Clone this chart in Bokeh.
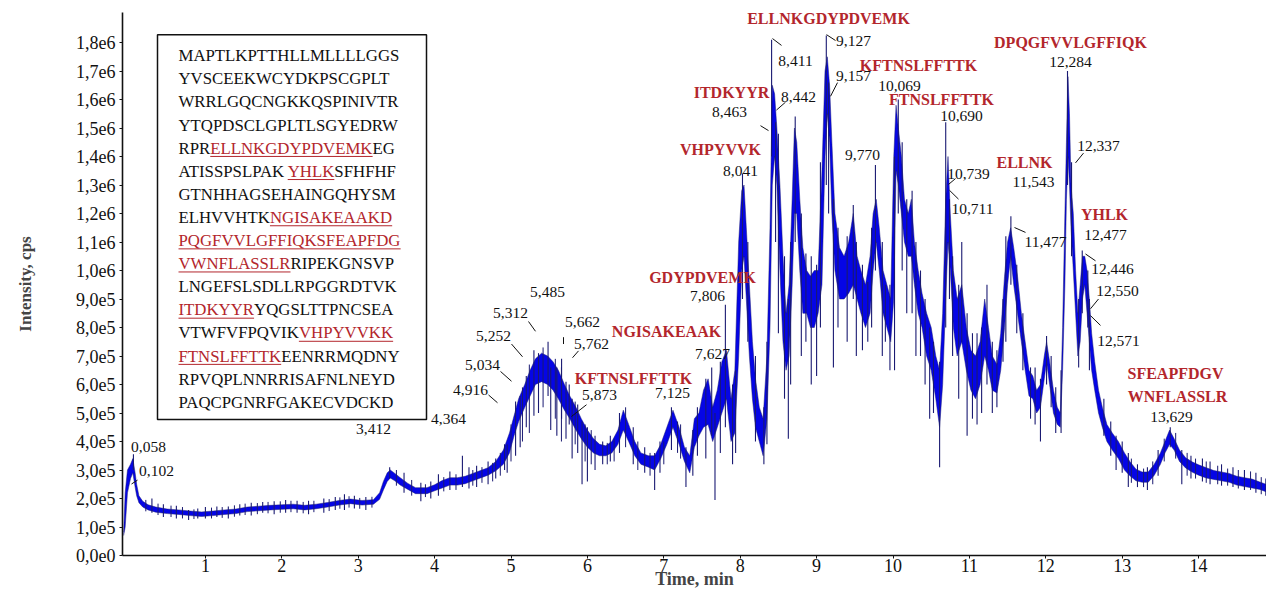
import numpy as np
from bokeh.plotting import figure
from bokeh.models import Range1d, FixedTicker, ColumnDataSource
from bokeh.core.properties import value
from bokeh.embed import file_html
from bokeh.resources import INLINE

# ---------------- data ----------------
# TIC envelope: time (min), lower and upper edge of the noisy trace (x 1e5 cps)
time_min = [-0.07, -0.05, -0.02, 0.02, 0.05, 0.08, 0.10, 0.13, 0.18, 0.25, 0.35, 0.5, 0.65, 0.8, 0.95,
            1.1, 1.25, 1.4, 1.55, 1.7, 1.85, 2.0, 2.15, 2.3, 2.45, 2.6, 2.75, 2.9, 3.05, 3.2, 3.28,
            3.33, 3.38, 3.42, 3.48, 3.55, 3.65, 3.75, 3.9, 4.0, 4.1, 4.2, 4.3, 4.4, 4.5, 4.6, 4.7,
            4.8, 4.9, 4.98, 5.04, 5.1, 5.18, 5.25, 5.32, 5.4, 5.48, 5.55, 5.62, 5.7, 5.77, 5.85,
            5.92, 6.0, 6.08, 6.16, 6.24, 6.32, 6.4, 6.47, 6.54, 6.62, 6.7, 6.8, 6.88, 6.96, 7.04,
            7.12, 7.2, 7.27, 7.34, 7.4, 7.46, 7.52, 7.58, 7.64, 7.7, 7.76, 7.82, 7.88, 7.93, 7.98,
            8.02, 8.05, 8.08, 8.12, 8.16, 8.2, 8.25, 8.3, 8.35, 8.39, 8.42, 8.45, 8.48, 8.52, 8.56,
            8.6, 8.64, 8.68, 8.71, 8.74, 8.78, 8.82, 8.87, 8.92, 8.97, 9.02, 9.07, 9.11, 9.14, 9.17,
            9.2, 9.24, 9.3, 9.36, 9.42, 9.48, 9.53, 9.58, 9.64, 9.7, 9.74, 9.78, 9.82, 9.87, 9.92,
            9.97, 10.01, 10.04, 10.07, 10.11, 10.15, 10.2, 10.24, 10.28, 10.33, 10.38, 10.44, 10.5,
            10.56, 10.61, 10.65, 10.69, 10.72, 10.75, 10.79, 10.84, 10.9, 10.96, 11.02, 11.08,
            11.14, 11.2, 11.25, 11.3, 11.36, 11.41, 11.46, 11.5, 11.54, 11.58, 11.63, 11.68, 11.73,
            11.78, 11.83, 11.88, 11.93, 11.98, 12.01, 12.05, 12.1, 12.15, 12.19, 12.22, 12.25,
            12.27, 12.29, 12.31, 12.33, 12.36, 12.39, 12.42, 12.45, 12.48, 12.51, 12.54, 12.57,
            12.6, 12.64, 12.69, 12.74, 12.8, 12.87, 12.95, 13.03, 13.1, 13.18, 13.26, 13.34, 13.42,
            13.5, 13.56, 13.62, 13.68, 13.75, 13.83, 13.92, 14.0, 14.1, 14.2, 14.3, 14.4, 14.5,
            14.6, 14.7, 14.8, 14.9, 14.99]
lower_e5 = [0.70, 1.0, 2.2, 2.7, 2.9, 2.4, 2.1, 1.85, 1.7, 1.6, 1.52, 1.47, 1.44, 1.4, 1.37,
            1.4, 1.44, 1.47, 1.54, 1.57, 1.6, 1.62, 1.64, 1.6, 1.64, 1.7, 1.77, 1.82, 1.77, 1.8, 1.97,
            2.3, 2.6, 2.72, 2.62, 2.47, 2.32, 2.17, 2.17, 2.27, 2.37, 2.47, 2.47, 2.52, 2.62, 2.72, 2.82,
            2.97, 3.2, 3.6, 4.2, 4.7, 5.2, 5.6, 6.0, 6.1, 6.0, 5.8, 5.5, 5.1, 4.8, 4.4,
            4.1, 3.8, 3.6, 3.5, 3.5, 3.6, 3.9, 4.4, 4.0, 3.5, 3.2, 3.1, 3.0, 3.4, 3.9,
            4.5, 3.9, 3.3, 2.9, 3.8, 4.2, 4.5, 4.6, 4.0, 4.5, 5.0, 5.5, 4.0, 4.3, 7.0,
            10.0, 10.5, 9.0, 7.0, 5.5, 4.5, 4.0, 3.5, 4.8, 8.0, 13.0, 14.0, 13.0, 10.0, 7.5,
            6.5, 7.0, 9.5, 12.0, 12.0, 10.0, 8.5, 8.5, 8.0, 8.0, 8.5, 9.5, 14.0, 15.5, 14.5,
            12.0, 10.0, 9.0, 9.0, 9.2, 9.5, 9.0, 8.5, 8.0, 8.5, 10.0, 11.0, 10.0, 8.5, 8.0,
            7.5, 9.0, 13.5, 13.0, 12.0, 11.0, 10.5, 10.5, 9.5, 8.5, 8.0, 7.0, 6.5,
            5.5, 4.5, 6.0, 9.0, 11.0, 10.0, 8.0, 7.0, 7.5, 6.5, 5.8, 5.5,
            6.0, 7.0, 6.5, 5.8, 5.7, 6.5, 8.0, 9.5, 10.5, 9.5, 8.5, 7.5, 6.5,
            5.6, 5.5, 5.0, 5.2, 6.2, 6.8, 6.0, 5.0, 4.6, 4.5, 6.5, 9.5,
            12.5, 14.0, 13.0, 11.5, 10.0, 8.5, 7.0, 7.5, 9.0, 9.5, 8.5, 7.5,
            6.5, 5.8, 5.0, 4.5, 4.0, 3.7, 3.4, 3.0, 2.8, 2.62, 2.57, 2.57, 2.82,
            3.2, 3.6, 3.9, 3.7, 3.3, 3.07, 2.92, 2.82, 2.72, 2.67, 2.62, 2.57, 2.47,
            2.42, 2.37, 2.32, 2.22, 2.17]
upper_e5 = [0.82, 2.2, 3.0, 3.2, 3.4, 2.9, 2.5, 2.1, 1.9, 1.78, 1.7, 1.63, 1.6, 1.56, 1.53,
            1.56, 1.6, 1.63, 1.7, 1.73, 1.76, 1.78, 1.8, 1.76, 1.8, 1.86, 1.93, 1.98, 1.93, 1.96, 2.2,
            2.6, 2.9, 3.0, 2.88, 2.73, 2.53, 2.38, 2.38, 2.48, 2.63, 2.73, 2.73, 2.78, 2.88, 2.98, 3.08,
            3.3, 3.7, 4.3, 4.9, 5.5, 6.0, 6.5, 6.9, 7.1, 7.0, 6.8, 6.5, 6.0, 5.6, 5.2,
            4.8, 4.4, 4.1, 3.9, 3.85, 4.0, 4.4, 5.1, 4.6, 4.0, 3.6, 3.5, 3.5, 3.9, 4.5,
            5.1, 4.5, 3.8, 3.5, 4.8, 5.0, 5.8, 6.2, 5.2, 5.8, 6.8, 7.2, 5.5, 6.5, 11.0,
            12.8, 13.0, 11.5, 9.5, 7.5, 6.2, 5.2, 4.8, 7.0, 11.5, 16.5, 16.2, 15.0, 13.0, 10.5,
            8.5, 9.5, 12.5, 15.0, 14.5, 12.5, 10.8, 10.0, 9.8, 10.0, 10.0, 13.5, 17.0, 17.5, 16.5,
            14.5, 12.0, 10.8, 10.5, 11.0, 12.0, 10.5, 10.0, 9.5, 10.5, 12.0, 12.5, 11.5, 10.0, 9.5,
            9.0, 14.0, 15.8, 15.0, 14.0, 12.5, 12.0, 12.5, 11.0, 10.0, 9.2, 8.5, 8.0,
            7.0, 6.5, 8.5, 12.5, 14.0, 12.0, 10.0, 9.0, 9.5, 8.0, 7.2, 7.0,
            7.5, 9.0, 8.0, 7.0, 6.7, 7.8, 9.8, 11.0, 11.5, 10.8, 9.8, 8.5, 7.5,
            6.5, 6.3, 5.8, 6.0, 7.0, 7.5, 6.8, 5.8, 5.2, 5.0, 8.0, 12.0,
            14.5, 16.8, 15.5, 13.0, 12.0, 10.0, 8.5, 9.5, 10.5, 10.5, 10.0, 9.0,
            7.8, 6.8, 5.8, 5.2, 4.6, 4.3, 4.0, 3.6, 3.3, 3.03, 2.93, 2.93, 3.2,
            3.6, 4.0, 4.4, 4.1, 3.7, 3.43, 3.28, 3.18, 3.08, 2.98, 2.93, 2.88, 2.78,
            2.73, 2.68, 2.58, 2.48, 2.43]

# individual spikes of the trace: time (min), low and high end (x 1e5 cps)
spike_time = [0.058, 0.3, 0.45, 0.62, 0.78, 0.9, 1.0, 1.15, 1.3, 1.45, 1.6, 1.75, 1.9, 2.05, 2.2,
              2.35, 2.55, 2.7, 2.82, 2.95, 3.1, 3.412, 3.6, 3.82, 3.95, 4.05, 4.2, 4.364, 4.45,
              4.55, 4.7, 4.8, 4.916, 4.95, 5.06, 5.12, 5.2, 5.3, 5.36, 5.485,
              5.52, 5.6, 5.662, 5.72, 5.762, 5.8, 5.873, 5.93, 6.0, 6.1, 6.2, 6.3, 6.42, 6.6, 6.75,
              6.88, 6.95, 7.1, 7.29, 7.38, 7.44, 7.55, 7.627, 7.67, 7.74, 7.806, 7.9, 7.94, 8.03,
              8.1, 8.2, 8.31, 8.35, 8.411, 8.463, 8.5, 8.58, 8.63, 8.66, 8.72, 8.8, 8.86, 8.93, 9.0,
              9.05, 9.127, 9.157, 9.22, 9.28, 9.4, 9.48, 9.52, 9.6, 9.67, 9.72, 9.77, 9.86, 9.9,
              9.96, 10.02, 10.069, 10.12, 10.18, 10.25, 10.3, 10.36, 10.42, 10.48, 10.53, 10.61,
              10.69, 10.739, 10.78, 10.86, 10.9, 10.97, 11.04, 11.1, 11.16, 11.23, 11.3, 11.36,
              11.44, 11.477, 11.543, 11.62, 11.7, 11.8, 11.86, 11.93, 12.01, 12.07, 12.13, 12.2,
              12.284, 12.337, 12.43, 12.477, 12.55, 12.571, 12.76, 12.85, 12.92, 13.0, 13.08,
              13.2, 13.33, 13.47, 13.629, 13.78, 13.9, 14.05, 14.15, 14.3, 14.45, 14.6, 14.75,
              14.88, 14.95]
spike_low_e5 = [3.0, 1.5, 1.35, 1.3, 1.25, 1.3, 1.3, 1.35, 1.3, 1.4, 1.4, 1.5, 1.45, 1.5, 1.5,
                1.45, 1.5, 1.6, 1.6, 1.65, 1.6, 2.7, 2.2, 1.9, 2.0, 2.1, 2.3, 2.4, 2.35,
                2.4, 2.5, 2.7, 3.0, 2.9, 3.5, 3.8, 4.5, 4.9, 5.0, 5.6,
                4.4, 4.2, 4.8, 4.1, 4.6, 3.4, 3.6, 2.5, 2.6, 3.0, 3.2, 3.3, 3.6, 3.2, 2.9,
                2.3, 2.9, 3.7, 2.4, 2.8, 3.5, 3.4, 4.2, 1.95, 3.6, 4.5, 3.2, 3.6, 9.0,
                7.5, 4.0, 3.2, 3.9, 14.0, 11.0, 7.8, 5.5, 4.1, 6.0, 11.0, 7.0, 7.5, 6.0, 6.3,
                8.0, 13.0, 12.0, 6.6, 8.0, 7.5, 9.0, 7.0, 7.2, 7.5, 8.0, 10.0, 7.0, 7.5,
                6.5, 6.5, 12.0, 10.0, 8.5, 8.5, 7.0, 7.0, 6.0, 4.8, 5.0, 3.1,
                8.0, 9.0, 7.0, 5.5, 7.5, 4.2, 4.8, 4.6, 5.0, 6.0, 5.0, 5.2,
                6.8, 7.5, 9.5, 7.8, 6.5, 4.8, 4.6, 4.0, 6.0, 5.2, 4.3, 4.3,
                13.0, 10.5, 6.6, 8.5, 8.0, 6.5, 4.2, 3.5, 3.0, 2.9, 2.4,
                2.4, 2.3, 2.8, 3.8, 2.5, 2.7, 2.6, 2.5, 2.45, 2.4, 2.3, 2.2,
                2.1, 2.0]
spike_high_e5 = [3.55, 2.0, 1.8, 1.75, 1.6, 1.65, 1.7, 1.72, 1.72, 1.8, 1.85, 1.88, 1.9, 1.95, 1.92,
                 1.92, 2.0, 2.05, 2.15, 2.1, 2.05, 3.1, 2.9, 2.55, 2.6, 2.85, 2.95, 3.5, 3.1,
                 3.15, 3.3, 3.4, 3.9, 3.9, 5.4, 5.6, 6.3, 7.2, 7.1, 7.5,
                 6.6, 6.6, 6.9, 6.1, 6.0, 5.5, 5.3, 4.7, 4.5, 4.2, 4.0, 4.2, 5.0, 4.5, 3.8,
                 3.6, 4.0, 5.2, 3.8, 4.4, 5.2, 6.2, 6.6, 5.0, 6.8, 8.8, 6.0, 6.5, 13.4,
                 11.0, 7.0, 5.2, 7.5, 18.1, 15.2, 14.8, 10.5, 9.0, 11.0, 15.4, 12.0, 10.6, 10.5, 10.2,
                 13.8, 18.25, 16.6, 12.5, 11.5, 11.2, 12.3, 11.0, 10.2, 9.6, 11.5, 13.7, 11.0, 9.5,
                 9.5, 14.0, 16.0, 14.5, 12.5, 12.8, 11.0, 10.0, 9.0, 8.0, 7.5, 6.8,
                 15.2, 12.5, 10.5, 9.5, 11.0, 8.5, 7.8, 7.8, 8.0, 9.5, 7.5, 7.2,
                 9.0, 11.2, 11.9, 10.2, 8.5, 6.6, 6.6, 6.2, 7.7, 7.0, 5.9, 6.5,
                 17.0, 13.8, 9.0, 10.7, 10.0, 9.0, 5.5, 4.7, 4.2, 4.0, 3.6,
                 3.2, 3.1, 3.7, 4.5, 3.7, 3.5, 3.4, 3.3, 3.2, 3.1, 3.0, 2.9,
                 2.7, 2.6]

# shorter noise spikes along the band: time (min), low and high end (x 1e5 cps)
noise_time = [0.22, 0.38, 0.55, 0.7, 0.85, 1.08, 1.22, 1.38, 1.52, 1.68, 1.82, 1.98, 2.12, 2.28,
              2.42, 2.62, 2.76, 2.88, 3.02, 3.18, 3.5, 3.7, 3.88, 4.12, 4.28, 4.5, 4.62, 4.76,
              4.86, 5.0, 5.15, 5.24, 5.42, 5.58, 5.66, 5.84, 5.97, 6.05, 6.26, 6.35, 6.5, 6.66,
              6.82, 7.0, 7.18, 7.22, 13.12, 13.28, 13.4, 13.55, 13.7, 13.85, 13.96, 14.1, 14.25,
              14.38, 14.52, 14.68, 14.82]
noise_low_e5 = [1.55, 1.42, 1.35, 1.3, 1.28, 1.3, 1.32, 1.36, 1.42, 1.45, 1.48, 1.5, 1.52, 1.48,
                1.52, 1.56, 1.64, 1.68, 1.64, 1.68, 2.45, 2.1, 2.05, 2.25, 2.3, 2.45, 2.55, 2.6,
                2.8, 3.3, 4.0, 4.3, 5.2, 4.8, 4.0, 3.9, 3.3, 3.2, 3.2, 3.3, 3.8, 3.0,
                2.8, 3.2, 3.6, 3.4, 2.55, 2.4, 2.5, 3.3, 3.4, 2.8, 2.7, 2.55, 2.5,
                2.45, 2.35, 2.3, 2.15]
noise_high_e5 = [1.95, 1.82, 1.75, 1.7, 1.62, 1.68, 1.7, 1.76, 1.82, 1.84, 1.88, 1.9, 1.92, 1.88,
                 1.92, 1.98, 2.04, 2.08, 2.02, 2.06, 3.0, 2.65, 2.5, 2.75, 2.85, 3.0, 3.1, 3.25,
                 3.6, 4.6, 5.9, 6.7, 7.3, 6.9, 6.6, 5.4, 4.6, 4.4, 3.95, 4.1, 5.2, 4.0,
                 3.6, 4.0, 4.7, 4.6, 3.4, 3.05, 3.3, 4.1, 4.3, 3.6, 3.4, 3.3, 3.15,
                 3.05, 3.0, 2.95, 2.75]

# axis ticks
x_ticks = list(range(1, 15))
y_ticks_e5 = list(range(0, 19))
y_tick_labels = ["0,0e0", "1,0e5", "2,0e5", "3,0e5", "4,0e5", "5,0e5", "6,0e5", "7,0e5", "8,0e5",
                 "9,0e5", "1,0e6", "1,1e6", "1,2e6", "1,3e6", "1,4e6", "1,5e6", "1,6e6", "1,7e6",
                 "1,8e6"]

# retention-time annotations (text only; placement below)
rt_labels = ["0,058", "0,102", "3,412", "4,364", "4,916", "5,034", "5,252", "5,312", "5,485",
             "5,662", "5,762", "5,873", "7,125", "7,627", "7,806", "8,041", "8,463", "8,442",
             "8,411", "9,127", "9,157", "9,770", "10,069", "10,690", "10,739", "10,711",
             "11,543", "11,477", "12,284", "12,337", "12,477", "12,446", "12,550", "12,571",
             "13,629"]
peptide_labels = ["ELLNKGDYPDVEMK", "ITDKYYR", "VHPYVVK", "GDYPDVEMK", "NGISAKEAAK",
                  "KFTNSLFFTTK", "KFTNSLFFTTK", "FTNSLFFTTK", "DPQGFVVLGFFIQK", "ELLNK", "YHLK",
                  "SFEAPFDGV", "WNFLASSLR"]

# protein sequence lines, split in (segment, identified?) pieces
sequence_pieces = [
    [("MAPTLKPTTHLLMLLLLGGS", False)],
    [("YVSCEEKWCYDKPSCGPLT", False)],
    [("WRRLGQCNGKKQSPINIVTR", False)],
    [("YTQPDSCLGPLTLSGYEDRW", False)],
    [("RPR", False), ("ELLNKGDYPDVEMK", True), ("EG", False)],
    [("ATISSPSLPAK", False), ("YHLK", True), ("SFHFHF", False)],
    [("GTNHHAGSEHAINGQHYSM", False)],
    [("ELHVVHTK", False), ("NGISAKEAAKD", True)],
    [("PQGFVVLGFFIQKSFEAPFDG", True)],
    [("VWNFLASSLR", True), ("RIPEKGNSVP", False)],
    [("LNGEFSLSDLLRPGGRDTVK", False)],
    [("ITDKYYR", True), ("YQGSLTTPNCSEA", False)],
    [("VTWFVFPQVIK", False), ("VHPYVVKK", True)],
    [("FTNSLFFTTK", True), ("EENRRMQDNY", False)],
    [("RPVQPLNNRRISAFNLNEYD", False)],
    [("PAQCPGNRFGAKECVDCKD", False)],
]

# ---------------- layout ----------------
W, H = 1266, 593
FRAME_L, FRAME_T, FRAME_B = 122, 12, 555
X0_PX, PX_PER_MIN = 128.5, 76.4          # reference x pixel of t=0 and scale
REF_Y0, REF_PER_E5 = 566.0, 29.11        # reference y pixel of 0 and scale
PER_E5 = (FRAME_B - 42) / 18.0           # rendered scale (1.8e6 stays at y=42)

def px_t(px):
    return (px - X0_PX) / PX_PER_MIN
def py_y(py):
    return (REF_Y0 - py) / REF_PER_E5 * 1e5

SERIF = "Liberation Serif"
RED = "#b3262c"
BLUE = "#0505e6"
NAVY = "#1a1a72"

# Times / Liberation Serif capital advance widths (1/1000 em), for laying out the sequence pieces
CAP_W = dict(A=722, B=667, C=667, D=722, E=611, F=556, G=722, H=722, I=333, J=389, K=722, L=611,
             M=889, N=722, O=722, P=556, Q=722, R=667, S=556, T=611, U=722, V=722, W=944, X=722,
             Y=722, Z=611)
SEQ_FS = 16.8
def text_w(s):
    return sum(CAP_W[c] for c in s) / 1000.0 * SEQ_FS

p = figure(width=W, height=H, output_backend="svg", toolbar_location=None,
           x_range=Range1d(px_t(FRAME_L), px_t(W)),
           y_range=Range1d(0, (FRAME_B - FRAME_T) / PER_E5 * 1e5),
           min_border_left=FRAME_L, min_border_right=0, min_border_top=FRAME_T,
           min_border_bottom=H - FRAME_B)
p.outline_line_color = None
p.grid.grid_line_color = None
p.background_fill_color = "white"

# axes
p.xaxis.ticker = FixedTicker(ticks=x_ticks)
p.yaxis.ticker = FixedTicker(ticks=[v * 1e5 for v in y_ticks_e5])
p.yaxis.major_label_overrides = {v * 1e5: lab for v, lab in zip(y_ticks_e5, y_tick_labels)}
for ax in (p.xaxis, p.yaxis):
    ax.axis_line_color = "#111111"
    ax.axis_line_width = 1.6
    ax.major_tick_line_color = "#111111"
    ax.major_tick_in = 0
    ax.major_tick_out = 3
    ax.minor_tick_line_color = None
    ax.major_label_text_font = SERIF
    ax.major_label_text_font_size = "18px"
    ax.major_label_text_color = "#111111"
p.xaxis.major_label_standoff = 0
p.yaxis.major_label_standoff = 4
p.yaxis.axis_label = "Intensity, cps"
p.yaxis.axis_label_text_font = SERIF
p.yaxis.axis_label_text_font_style = "bold"
p.yaxis.axis_label_text_font_size = "17px"
p.yaxis.axis_label_standoff = 38
p.xaxis.axis_label = "Time, min"
p.xaxis.axis_label_text_font = SERIF
p.xaxis.axis_label_text_font_style = "bold"
p.xaxis.axis_label_text_font_size = "18px"
p.xaxis.axis_label_standoff = -6

# trace
t = np.array(time_min)
lo = np.array(lower_e5) * 1e5
hi = np.array(upper_e5) * 1e5
src = ColumnDataSource(dict(t=t, lo=lo, hi=hi))
p.varea(x="t", y1="lo", y2="hi", source=src, fill_color=BLUE)
p.line(x="t", y="hi", source=src, line_color=NAVY, line_width=0.7, line_alpha=0.7)
p.line(x="t", y="lo", source=src, line_color=NAVY, line_width=0.7, line_alpha=0.7)
sp = ColumnDataSource(dict(t=spike_time, lo=np.array(spike_low_e5) * 1e5,
                           hi=np.array(spike_high_e5) * 1e5))
p.segment(x0="t", y0="lo", x1="t", y1="hi", source=sp, line_color=NAVY, line_width=1.1)
ns = ColumnDataSource(dict(t=noise_time, lo=np.array(noise_low_e5) * 1e5,
                           hi=np.array(noise_high_e5) * 1e5))
p.segment(x0="t", y0="lo", x1="t", y1="hi", source=ns, line_color=NAVY, line_width=1.0)

# retention-time labels: position (reference px) for each label
rt_pos_px = [(148, 455), (156, 480), (373, 437), (448, 427), (470, 397), (482, 371), (493, 342),
             (510, 318), (547, 297), (582, 328), (591, 350), (599, 402), (672, 400), (712, 360),
             (707, 301), (740, 173), (729, 113), (798, 98), (795, 61), (853, 40), (853, 76),
             (862, 157), (899, 86), (961, 117), (968, 176), (972, 212), (1033, 184), (1045, 246),
             (1070, 62), (1098, 148), (1105, 239), (1112, 273), (1117, 296), (1118, 347),
             (1171, 425)]
p.text(x=[px_t(a) for a, b in rt_pos_px], y=[py_y(b) for a, b in rt_pos_px], text=rt_labels,
       text_align="center", text_baseline="middle", text_font=value(SERIF),
       text_font_size=value("15.5px"), text_color="#111111")

pep_pos_px = [(828, 18), (731, 93), (720, 151), (702, 282), (666, 337), (633, 385), (918, 66),
              (941, 100), (1070, 42), (1024, 165), (1104, 218), (1175, 380), (1177, 404)]
p.text(x=[px_t(a) for a, b in pep_pos_px], y=[py_y(b) for a, b in pep_pos_px],
       text=peptide_labels, text_align="center", text_baseline="middle", text_font=value(SERIF),
       text_font_style="bold", text_font_size=value("16px"), text_color=RED)

# leader lines (reference px)
leaders_px = [(137, 489, 131, 493), (488, 402, 497, 410), (500, 378, 511, 388), (511, 350, 522, 363),
              (528, 327, 535, 337), (563, 343, 563, 350), (578, 357, 572, 364), (586, 412, 571, 424),
              (760, 127, 768, 132), (785, 103, 776, 111), (772, 38, 781, 45), (826, 34, 835, 40),
              (837, 83, 830, 97), (955, 181, 948, 187), (958, 202, 949, 193), (1025, 236, 1014, 231),
              (1083, 155, 1075, 165), (1095, 265, 1085, 258), (1098, 304, 1090, 314),
              (1100, 331, 1090, 321)]
p.segment(x0=[px_t(a) for a, b, c, d in leaders_px], y0=[py_y(b) for a, b, c, d in leaders_px],
          x1=[px_t(c) for a, b, c, d in leaders_px], y1=[py_y(d) for a, b, c, d in leaders_px],
          line_color="#111111", line_width=1)

# sequence box
BOX_L, BOX_R, BOX_T, BOX_B = 157, 426, 34, 427
p.quad(left=px_t(BOX_L), right=px_t(BOX_R), top=py_y(BOX_T), bottom=py_y(BOX_B),
       fill_color="white", line_color="#111111", line_width=1.5)

seg_x, seg_y, seg_txt, seg_col = [], [], [], []
ul_x0, ul_x1, ul_y = [], [], []
for i, pieces in enumerate(sequence_pieces):
    cy = 55.5 + 23.6 * i
    sx = 178.0
    for txt, red in pieces:
        w = text_w(txt)
        seg_x.append(px_t(sx))
        seg_y.append(py_y(cy))
        seg_txt.append(txt)
        seg_col.append(RED if red else "#111111")
        if red:
            ul_x0.append(px_t(sx))
            ul_x1.append(px_t(sx + w))
            ul_y.append(py_y(cy + 8.5))
        sx += w
p.text(x=seg_x, y=seg_y, text=seg_txt, text_color=seg_col, text_align="left",
       text_baseline="middle", text_font=value(SERIF), text_font_size=value("%.1fpx" % SEQ_FS))
p.segment(x0=ul_x0, y0=ul_y, x1=ul_x1, y1=ul_y, line_color=RED, line_width=1)

open("out.html", "w").write(file_html(p, INLINE))
